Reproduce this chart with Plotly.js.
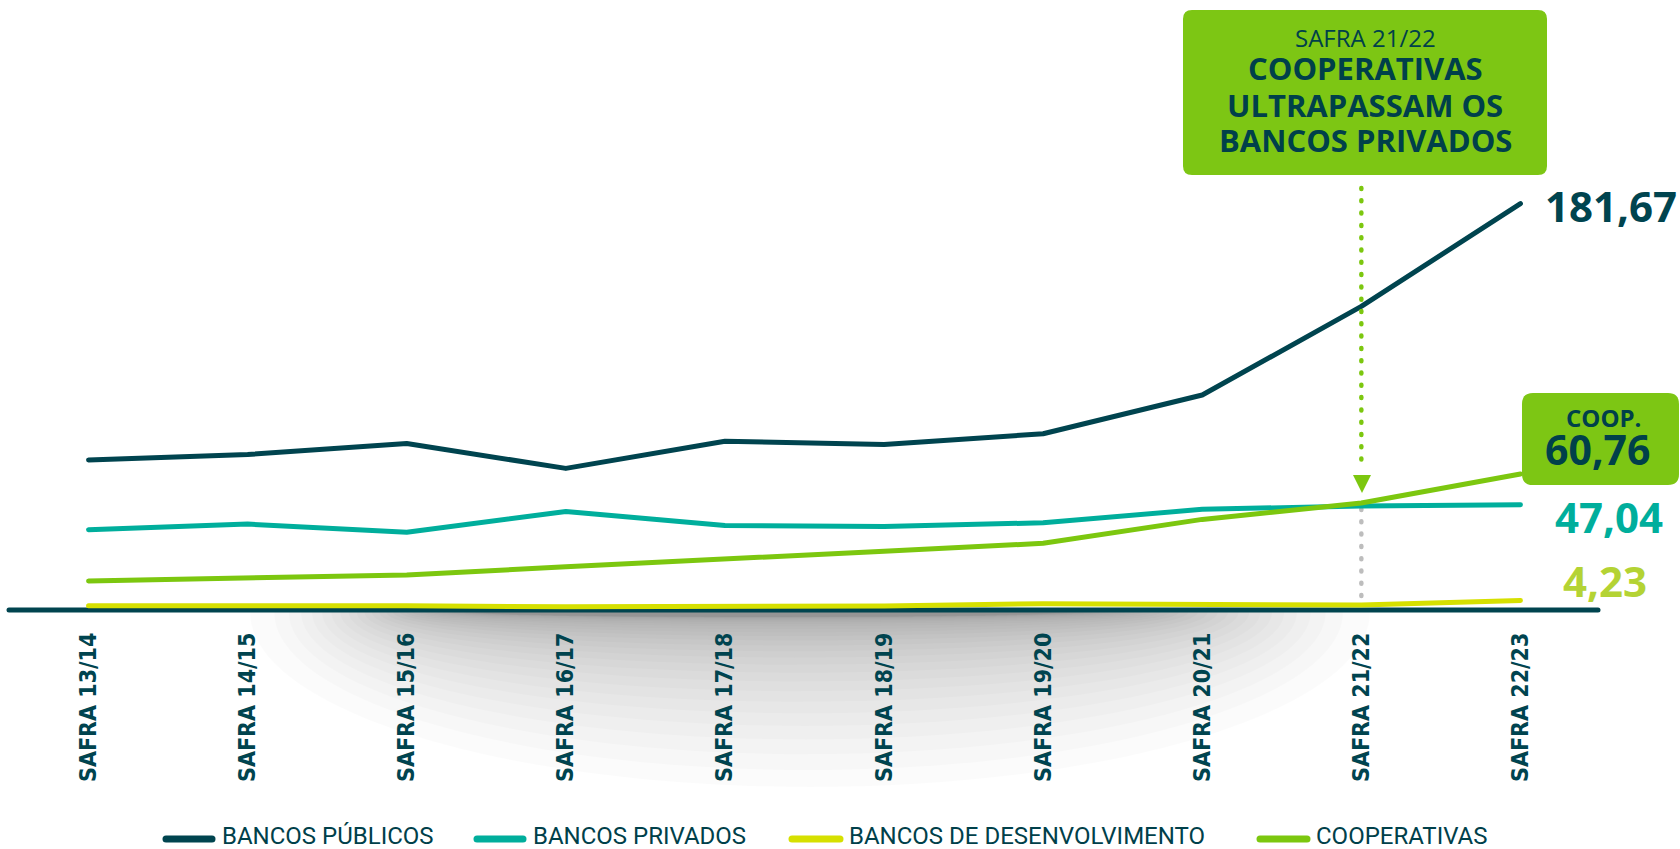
<!DOCTYPE html>
<html>
<head>
<meta charset="utf-8">
<script src="https://cdn.plot.ly/plotly-3.0.1.min.js"></script>
<style>
  html, body { margin: 0; padding: 0; background: #ffffff; }
  #chart { width: 1680px; height: 849px; }
  .scatterlayer .js-line { stroke-linecap: round; stroke-linejoin: round; }
  .shapelayer path { stroke-linecap: round; }
</style>
</head>
<body>
<div id="chart"></div>
<script>
// ---------- DATA ----------
const categories = ['SAFRA 13/14', 'SAFRA 14/15', 'SAFRA 15/16', 'SAFRA 16/17', 'SAFRA 17/18',
                    'SAFRA 18/19', 'SAFRA 19/20', 'SAFRA 20/21', 'SAFRA 21/22', 'SAFRA 22/23'];
const bancosPublicos        = [67.1, 69.5, 74.4, 63.3, 75.4, 74.0, 78.8, 96.1, 135.7, 181.67];
const bancosPrivados        = [35.9, 38.4, 34.8, 44.0, 37.8, 37.3, 39.0, 45.0, 46.5, 47.04];
const bancosDesenvolvimento = [1.9, 2.0, 1.9, 1.4, 1.5, 1.8, 2.8, 2.6, 2.2, 4.23];
const cooperativas          = [13.0, 14.3, 15.7, 19.3, 22.6, 26.3, 29.8, 40.5, 47.8, 60.76];
const seriesNames = ['BANCOS PÚBLICOS', 'BANCOS PRIVADOS', 'BANCOS DE DESENVOLVIMENTO', 'COOPERATIVAS'];
const highlightCategory = 'SAFRA 21/22';
const calloutLines = ['SAFRA 21/22', 'COOPERATIVAS', 'ULTRAPASSAM OS', 'BANCOS PRIVADOS'];

// ---------- STYLE ----------
const C_PUB = '#00444F', C_PRIV = '#00AE9C', C_DES = '#D6E000', C_COOP = '#7CC70F';
const C_BOX = '#7DC614', C_TXT = '#00404A', C_LBL423 = '#B4D334';
const NUM_FONT = 'Open Sans, sans-serif';
const LEG_FONT = 'Roboto, sans-serif';

// plot area in pixels
const L = 9, R = 1600, T = 0, B = 610;
const PX = x => (x - L) / (R - L);
const PY = y => (B - y) / (B - T);
const pt = (x, y) => PX(x).toFixed(5) + ',' + PY(y).toFixed(5);
const fmt = v => v.toFixed(2).replace('.', ',');

function roundRect(x0, y0, x1, y1, r) {
  return 'M' + pt(x0 + r, y0) + ' L' + pt(x1 - r, y0) + ' Q' + pt(x1, y0) + ' ' + pt(x1, y0 + r) +
         ' L' + pt(x1, y1 - r) + ' Q' + pt(x1, y1) + ' ' + pt(x1 - r, y1) +
         ' L' + pt(x0 + r, y1) + ' Q' + pt(x0, y1) + ' ' + pt(x0, y1 - r) +
         ' L' + pt(x0, y0 + r) + ' Q' + pt(x0, y0) + ' ' + pt(x0 + r, y0) + ' Z';
}
function halfEllipse(cx, cy, rx, ry) {
  const k = 0.5523;
  return 'M' + pt(cx - rx, cy) +
         ' C' + pt(cx - rx, cy + k * ry) + ' ' + pt(cx - k * rx, cy + ry) + ' ' + pt(cx, cy + ry) +
         ' C' + pt(cx + k * rx, cy + ry) + ' ' + pt(cx + rx, cy + k * ry) + ' ' + pt(cx + rx, cy) + ' Z';
}

const seriesData = [bancosPublicos, bancosPrivados, bancosDesenvolvimento, cooperativas];
const seriesColors = [C_PUB, C_PRIV, C_DES, C_COOP];

const traces = seriesData.map((vals, i) => ({
  type: 'scatter', mode: 'lines', x: categories, y: vals, name: seriesNames[i],
  line: { color: seriesColors[i], width: 5 }, showlegend: false, hoverinfo: 'skip'
}));

const shapes = [];
// soft shadow under the axis: many faint stacked half-ellipses for a smooth gradient
const SHADOW_STEPS = 30;
for (let s = 0; s < SHADOW_STEPS; s++) {
  const f = s / (SHADOW_STEPS - 1);            // 0 = widest, 1 = smallest
  const rx = 560 - 270 * Math.pow(f, 0.7);
  const ry = 170 * Math.pow(1 - f, 3) + 5;
  const cx = 810 - 40 * f;
  shapes.push({ type: 'path', xref: 'paper', yref: 'paper', layer: 'below',
    path: halfEllipse(cx, 612, rx, ry), fillcolor: 'rgba(0,0,0,0.014)', line: { width: 0 } });
}
// baseline
shapes.push({ type: 'line', xref: 'paper', yref: 'paper', x0: PX(9), x1: PX(1598), y0: 0, y1: 0,
  line: { color: C_PUB, width: 5 }, layer: 'below' });

// callout arrow at highlight category (x in category index units)
const hi = categories.indexOf(highlightCategory);
shapes.push({ type: 'line', xref: 'x', yref: 'paper', x0: hi, x1: hi, y0: PY(188), y1: PY(470),
  line: { color: C_COOP, width: 4.5, dash: '1px,11.3px' }, layer: 'above' });
shapes.push({ type: 'path', xref: 'paper', yref: 'paper', layer: 'above',
  path: 'M' + pt(1353, 475) + ' L' + pt(1371, 475) + ' L' + pt(1362, 493) + ' Z',
  fillcolor: C_COOP, line: { width: 0 } });
shapes.push({ type: 'line', xref: 'x', yref: 'paper', x0: hi, x1: hi, y0: PY(509), y1: PY(596),
  line: { color: '#BDBDBD', width: 4.5, dash: '1px,11.3px' }, layer: 'below' });

// callout box
shapes.push({ type: 'path', xref: 'paper', yref: 'paper', layer: 'above',
  path: roundRect(1183, 10, 1547, 175, 9), fillcolor: C_BOX, line: { width: 0 } });
// COOP. box
shapes.push({ type: 'path', xref: 'paper', yref: 'paper', layer: 'above',
  path: roundRect(1522, 393, 1679, 485, 11), fillcolor: C_BOX, line: { width: 0 } });

// legend symbols
const legendItems = [[163, 215, 221], [474, 526, 532], [789, 843, 848], [1257, 1310, 1315]];
legendItems.forEach((li, i) => {
  shapes.push({ type: 'line', xref: 'paper', yref: 'paper', x0: PX(li[0] + 3), x1: PX(li[1] - 3),
    y0: PY(839), y1: PY(839), line: { color: seriesColors[i], width: 7 } });
});

const annotations = [];
// callout text
const calloutY = [37.5, 68, 105, 140];
calloutLines.forEach((t, i) => {
  annotations.push({ xref: 'paper', yref: 'paper', x: PX(1365), y: PY(calloutY[i]), text: t,
    showarrow: false, xanchor: 'center', yanchor: 'middle',
    font: { family: NUM_FONT, size: i === 0 ? 24 : 31, color: C_TXT, weight: i === 0 ? 400 : 700 } });
});
// end values
const last = categories.length - 1;
annotations.push({ x: categories[last], y: bancosPublicos[last], text: fmt(bancosPublicos[last]),
  showarrow: false, xanchor: 'left', yanchor: 'middle', xshift: 23, yshift: -2,
  font: { family: NUM_FONT, size: 42, color: C_PUB, weight: 700 } });
annotations.push({ x: categories[last], y: bancosPrivados[last], text: fmt(bancosPrivados[last]),
  showarrow: false, xanchor: 'left', yanchor: 'middle', xshift: 33, yshift: -12,
  font: { family: NUM_FONT, size: 42, color: C_PRIV, weight: 700 } });
annotations.push({ x: categories[last], y: bancosDesenvolvimento[last], text: fmt(bancosDesenvolvimento[last]),
  showarrow: false, xanchor: 'left', yanchor: 'middle', xshift: 41, yshift: 20,
  font: { family: NUM_FONT, size: 42, color: C_LBL423, weight: 700 } });
annotations.push({ x: categories[last], y: cooperativas[last], text: 'COOP.',
  showarrow: false, xanchor: 'center', yanchor: 'middle', xshift: 83, yshift: 57,
  font: { family: NUM_FONT, size: 24, color: C_TXT, weight: 700 } });
annotations.push({ x: categories[last], y: cooperativas[last], text: fmt(cooperativas[last]),
  showarrow: false, xanchor: 'center', yanchor: 'middle', xshift: 77, yshift: 25,
  font: { family: NUM_FONT, size: 41, color: C_TXT, weight: 700 } });
// legend text
legendItems.forEach((li, i) => {
  annotations.push({ xref: 'paper', yref: 'paper', x: PX(li[2]), y: PY(836), text: seriesNames[i],
    showarrow: false, xanchor: 'left', yanchor: 'middle', borderpad: 0,
    font: { family: LEG_FONT, size: 24, color: C_TXT } });
});

const layout = {
  width: 1680, height: 849,
  margin: { l: L, r: 1680 - R, t: T, b: 849 - B, pad: 0 },
  paper_bgcolor: '#ffffff', plot_bgcolor: 'rgba(0,0,0,0)',
  showlegend: false, hovermode: false,
  xaxis: {
    type: 'category', range: [-0.5, categories.length - 0.5],
    showgrid: false, zeroline: false, showline: false, ticks: '',
    tickangle: -90, ticklabelstandoff: 17,
    tickfont: { family: 'DejaVu Sans Condensed, DejaVu Sans, sans-serif', size: 23, color: C_PUB, weight: 700 },
    fixedrange: true
  },
  yaxis: {
    range: [0, (B - T) / 2.237], visible: false, showgrid: false, zeroline: false, fixedrange: true
  },
  shapes: shapes,
  annotations: annotations
};

Plotly.newPlot('chart', traces, layout, { staticPlot: true, displayModeBar: false });
</script>
</body>
</html>
